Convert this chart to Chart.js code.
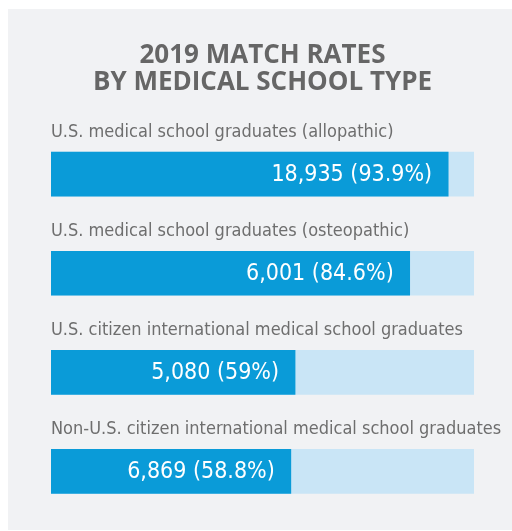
<!DOCTYPE html>
<html>
<head>
<meta charset="utf-8">
<script src="https://cdn.jsdelivr.net/npm/chart.js@4"></script>
<style>
    body { margin: 0; background: #ffffff; width: 512px; height: 531px; overflow: hidden; }
    #panel { position: absolute; left: 8px; top: 9px; width: 504px; height: 521px; background: #f1f2f4; }
    canvas { display: block; }
</style>
</head>
<body>
<div id="panel"><canvas id="matchChart" width="504" height="521"></canvas></div>
<script>
// Data
const categories = [
    'U.S. medical school graduates (allopathic)',
    'U.S. medical school graduates (osteopathic)',
    'U.S. citizen international medical school graduates',
    'Non-U.S. citizen international medical school graduates'
];
const matchedCounts = [18935, 6001, 5080, 6869];
const matchRates = [93.9, 84.6, 59, 58.8];
// bar lengths as drawn in the picture (share of the full track)
const barLengths = [93.9, 84.8, 57.7, 56.7];
const trackValues = [100, 100, 100, 100];
const titleLines = ['2019 MATCH RATES', 'BY MEDICAL SCHOOL TYPE'];

document.addEventListener('DOMContentLoaded', () => {
    const ctx = document.getElementById('matchChart').getContext('2d');

    // Category names above each bar, value text inside the bar
    const barLabels = {
        id: 'barLabels',
        afterDatasetsDraw(chart) {
            const c = chart.ctx;
            const meta = chart.getDatasetMeta(0);
            const left = chart.chartArea.left;
            c.save();
            meta.data.forEach((bar, i) => {
                const { x, y, height } = bar.getProps(['x', 'y', 'height'], true);
                const top = y - height / 2;

                c.font = '18px "DejaVu Sans Condensed", "DejaVu Sans", sans-serif';
                c.fillStyle = '#6e6e6e';
                c.textAlign = 'left';
                c.textBaseline = 'alphabetic';
                c.fillText(categories[i], left, top - 15);

                c.font = '23px "DejaVu Sans Condensed", "DejaVu Sans", sans-serif';
                c.fillStyle = '#ffffff';
                c.textAlign = 'right';
                c.textBaseline = 'middle';
                const text = matchedCounts[i].toLocaleString('en-US') + ' (' + matchRates[i] + '%)';
                c.fillText(text, x - 16, y + 1);
            });
            c.restore();
        }
    };

    new Chart(ctx, {
        type: 'bar',
        data: {
            labels: categories,
            datasets: [
                {
                    label: 'Match rate',
                    data: barLengths,
                    backgroundColor: '#0a9bd8',
                    barThickness: 44,
                    grouped: false,
                    order: 0
                },
                {
                    label: 'Track',
                    data: trackValues,
                    backgroundColor: '#c9e5f6',
                    barThickness: 44,
                    grouped: false,
                    order: 1
                }
            ]
        },
        options: {
            indexAxis: 'y',
            responsive: false,
            animation: false,
            devicePixelRatio: 1,
            layout: {
                padding: { left: 43, right: 38, top: 0, bottom: 9 }
            },
            scales: {
                x: { display: false, min: 0, max: 100 },
                y: { display: false }
            },
            plugins: {
                legend: { display: false },
                tooltip: { enabled: false },
                title: {
                    display: true,
                    text: titleLines,
                    color: '#666666',
                    font: { family: '"Open Sans", sans-serif', size: 26, weight: 'bold', lineHeight: 1.04 },
                    padding: { top: 33, bottom: 28.5 }
                }
            }
        },
        plugins: [barLabels]
    });
});
</script>
</body>
</html>
